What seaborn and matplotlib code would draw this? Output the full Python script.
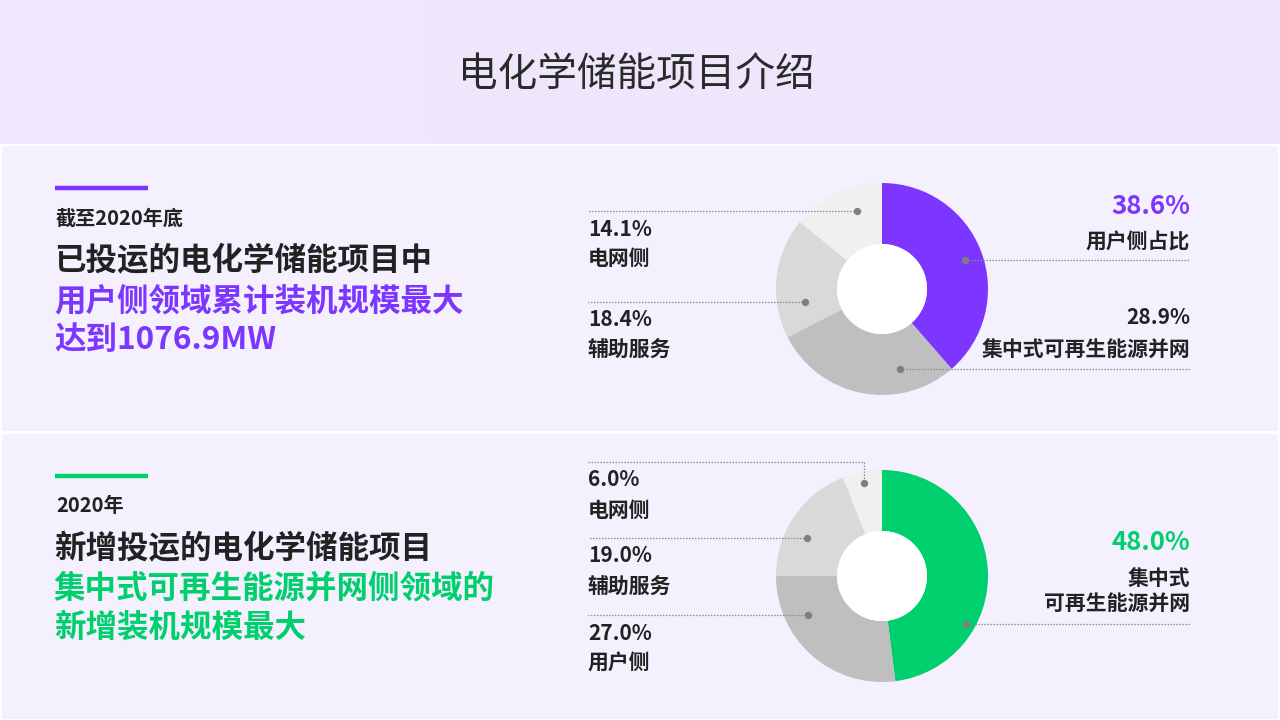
import numpy as np
import matplotlib.pyplot as plt
import seaborn as sns
import pandas as pd
from matplotlib.patches import Rectangle, Circle

# data
title = '电化学储能项目介绍'

top_labels = ['用户侧占比', '集中式可再生能源并网', '辅助服务', '电网侧']
top_values = [38.6, 28.9, 18.4, 14.1]
top_colors = ['#7D36FF', '#BFBFBF', '#D9D9D9', '#F0F0F0']

bot_labels = ['集中式\n可再生能源并网', '用户侧', '辅助服务', '电网侧']
bot_values = [48.0, 27.0, 19.0, 6.0]
bot_colors = ['#00CF6E', '#BFBFBF', '#D9D9D9', '#F0F0F0']

top_text = ['截至2020年底', '已投运的电化学储能项目中', '用户侧领域累计装机规模最大', '达到1076.9MW']
bot_text = ['2020年', '新增投运的电化学储能项目', '集中式可再生能源并网侧领域的', '新增装机规模最大']

PURPLE = '#7D36FF'
GREEN = '#00CF6E'
DARK = '#222222'
LBL = 15

sns.set_theme(style='white')
plt.rcParams['font.family'] = ['Noto Sans CJK SC', 'DejaVu Sans']

W, H = 1280, 720
fig = plt.figure(figsize=(12.8, 7.2), dpi=100)
ax = fig.add_axes([0, 0, 1, 1])
ax.set_xlim(0, W)
ax.set_ylim(0, H)
ax.axis('off')

def Y(y):
    # pixel y (from top) -> data y
    return H - y

# background with a soft gradient
grad = np.linspace(0, 1, 256)
bg = np.zeros((1, 256, 3))
c0 = np.array([0xF0, 0xE9, 0xFD]) / 255
c1 = np.array([0xED, 0xE5, 0xFB]) / 255
bg[0] = c0 + (c1 - c0) * grad[:, None]
ax.imshow(bg, extent=[0, W, 0, H], aspect='auto', zorder=0)

# two panels with white border
for top, bottom in [(145, 432), (433, 720)]:
    ax.add_patch(Rectangle((1, Y(bottom)), W - 2, bottom - top, facecolor='#F4F0FE',
                           edgecolor='white', lw=1.6, zorder=1))

ax.text(636, Y(75), title, ha='center', va='center', fontsize=28.5, fontweight='medium',
        color='#2A2A2A', zorder=5)


def left_block(lines, color, y0):
    ax.plot([55, 148], [Y(y0), Y(y0)], color=color, lw=3.2, solid_capstyle='butt', zorder=5)
    ax.text(56, Y(y0 + 30), lines[0], fontsize=14.5, fontweight='bold', color=DARK, va='center', zorder=5)
    ax.text(54, Y(y0 + 73), lines[1], fontsize=22.7, fontweight='bold', color=DARK, va='center', zorder=5)
    ax.text(54, Y(y0 + 113), lines[2], fontsize=22.7, fontweight='bold', color=color, va='center', zorder=5)
    ax.text(54, Y(y0 + 152), lines[3], fontsize=22.7, fontweight='bold', color=color, va='center', zorder=5)


left_block(top_text, PURPLE, 188)
left_block(bot_text, GREEN, 476)


def donut(cx, cy, values, colors):
    ax.pie(values, colors=colors, startangle=90, counterclock=False,
           center=(cx, Y(cy)), radius=106, frame=True,
           wedgeprops=dict(width=61, linewidth=0))
    ax.add_patch(Circle((cx, Y(cy)), 45, facecolor='white', edgecolor='none', zorder=3))


def callout(cx, cy, dy, side, r=84, x_end=None):
    # dot on a circle of radius r inside the ring, leader runs horizontally to the text column
    dx = side * np.sqrt(r ** 2 - dy ** 2)
    px, py = cx + dx, cy + dy
    ax.plot([px, x_end], [Y(py), Y(py)], color='#8C8C8C', lw=0.9, ls=(0, (1.2, 1.2)), zorder=4)
    return px, py


def dots(xs, ys):
    d = pd.DataFrame({'x': xs, 'y': [Y(v) for v in ys]})
    sns.scatterplot(data=d, x='x', y='y', ax=ax, color='#7F7F7F', s=28, linewidth=0, zorder=6, legend=False)


def label(x, y, s, ha, size=LBL, color=DARK, **kw):
    ax.text(x, Y(y), s, ha=ha, va='center', fontsize=size, fontweight='bold', color=color, zorder=5, **kw)


cx = 882
# ---- top donut
cy = 289
donut(cx, cy, top_values, top_colors)
xs, ys = [], []
for dy, side, xe, r in [(-29, 1, 1190, 88), (80, 1, 1190, 82), (13, -1, 588, 78), (-78, -1, 588, 82)]:
    px, py = callout(cx, cy, dy, side, r=r, x_end=xe)
    xs.append(px); ys.append(py)
dots(xs, ys)

label(1190, 206, f'{top_values[0]:.1f}%', 'right', size=18.5, color=PURPLE)
label(1190, 242, top_labels[0], 'right')
label(1190, 317, f'{top_values[1]:.1f}%', 'right')
label(1190, 350, top_labels[1], 'right')
label(588, 319, f'{top_values[2]:.1f}%', 'left')
label(588, 349, top_labels[2], 'left')
label(588, 229, f'{top_values[3]:.1f}%', 'left')
label(588, 258, top_labels[3], 'left')

# ---- bottom donut
cy = 576
donut(cx, cy, bot_values, bot_colors)
xs, ys = [], []
for dy, side, xe, r in [(48, 1, 1190, 97), (39, -1, 588, 84), (-38, -1, 588, 84)]:
    px, py = callout(cx, cy, dy, side, r=r, x_end=xe)
    xs.append(px); ys.append(py)
# smallest slice: dot at its mid angle, leader bends up above the ring
ang = np.deg2rad(360 - 360 * bot_values[3] / sum(bot_values) / 2)
px, py = cx + 95 * np.sin(ang), cy - 95 * np.cos(ang)
ax.plot([588, px, px], [Y(462), Y(462), Y(py)], color='#8C8C8C', lw=0.9, ls=(0, (1.2, 1.2)), zorder=4)
xs.append(px); ys.append(py)
dots(xs, ys)

label(1190, 542, f'{bot_values[0]:.1f}%', 'right', size=18.5, color=GREEN)
label(1190, 591, bot_labels[0], 'right', linespacing=1.25, multialignment='right')
for i, (yv, yl) in zip([1, 2, 3], [(633, 662), (556, 586), (480, 510)]):
    label(588, yv, f'{bot_values[i]:.1f}%', 'left')
    label(588, yl, bot_labels[i], 'left')

ax.set_xlim(0, W)
ax.set_ylim(0, H)
ax.set_xlabel('')
ax.set_ylabel('')
ax.axis('off')

fig.savefig('out.png', dpi=100)
plt.close()
